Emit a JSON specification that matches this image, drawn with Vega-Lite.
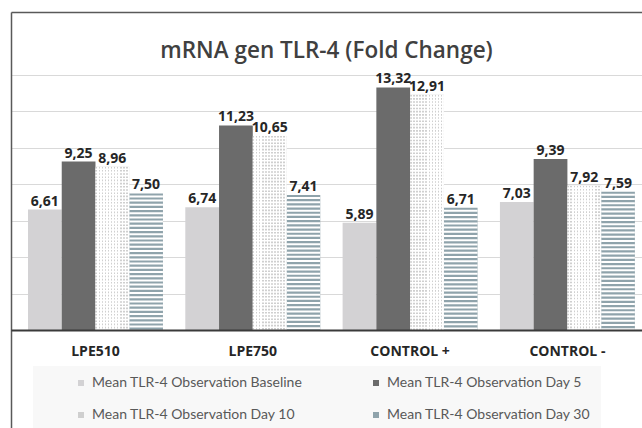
{
  "$schema": "https://vega.github.io/schema/vega-lite/v6.json",
  "autosize": {"type": "none"},
  "padding": {"left": 11, "top": 12, "right": 0, "bottom": 0},
  "width": 631,
  "height": 416,
  "background": "white",
  "title": {
    "text": "mRNA gen TLR-4 (Fold Change)",
    "font": "Open Sans",
    "fontSize": 22.5,
    "fontWeight": 600,
    "color": "#404040",
    "anchor": "middle",
    "offset": -50
  },
  "config": {
    "view": {"stroke": null},
    "locale": {"number": {"decimal": ",", "thousands": ".", "grouping": [3], "currency": ["", ""]}}
  },
  "data": {
    "values": [
      {"group": "LPE510", "series": "Mean TLR-4 Observation Baseline", "value": 6.61},
      {"group": "LPE510", "series": "Mean TLR-4 Observation Day 5", "value": 9.25},
      {"group": "LPE510", "series": "Mean TLR-4 Observation Day 10", "value": 8.96},
      {"group": "LPE510", "series": "Mean TLR-4 Observation Day 30", "value": 7.50},
      {"group": "LPE750", "series": "Mean TLR-4 Observation Baseline", "value": 6.74},
      {"group": "LPE750", "series": "Mean TLR-4 Observation Day 5", "value": 11.23},
      {"group": "LPE750", "series": "Mean TLR-4 Observation Day 10", "value": 10.65},
      {"group": "LPE750", "series": "Mean TLR-4 Observation Day 30", "value": 7.41},
      {"group": "CONTROL +", "series": "Mean TLR-4 Observation Baseline", "value": 5.89},
      {"group": "CONTROL +", "series": "Mean TLR-4 Observation Day 5", "value": 13.32},
      {"group": "CONTROL +", "series": "Mean TLR-4 Observation Day 10", "value": 12.91},
      {"group": "CONTROL +", "series": "Mean TLR-4 Observation Day 30", "value": 6.71},
      {"group": "CONTROL -", "series": "Mean TLR-4 Observation Baseline", "value": 7.03},
      {"group": "CONTROL -", "series": "Mean TLR-4 Observation Day 5", "value": 9.39},
      {"group": "CONTROL -", "series": "Mean TLR-4 Observation Day 10", "value": 7.92},
      {"group": "CONTROL -", "series": "Mean TLR-4 Observation Day 30", "value": 7.59}
    ]
  },
  "resolve": {"axis": {"x": "independent"}},
  "layer": [
    {
      "mark": {"type": "bar"},
      "encoding": {
        "x": {
          "field": "group", "type": "nominal", "sort": null,
          "scale": {"paddingInner": 0.142, "paddingOuter": 0.0766, "align": 0.705},
          "axis": {
            "orient": "bottom", "offset": -98, "title": null, "ticks": false, "labelAngle": 0,
            "domainColor": "#3a3a3a", "domainWidth": 2, "labelPadding": 14, "zindex": 1,
            "labelFont": "Open Sans", "labelFontSize": 14, "labelFontWeight": "bold", "labelColor": "#262626"
          }
        },
        "xOffset": {
          "field": "series", "type": "nominal",
          "scale": {"domain": ["Mean TLR-4 Observation Baseline", "Mean TLR-4 Observation Day 5", "Mean TLR-4 Observation Day 10", "Mean TLR-4 Observation Day 30"]}
        },
        "y": {
          "field": "value", "type": "quantitative",
          "scale": {"domain": [-5.38, 17.459], "nice": false, "zero": false},
          "axis": {
            "title": null, "labels": false, "ticks": false, "domain": true,
            "domainColor": "#595959", "domainWidth": 1.5,
            "grid": true, "gridColor": "#d9d9d9", "gridWidth": 1,
            "values": [2, 4, 6, 8, 10, 12, 14]
          }
        },
        "color": {
          "field": "series", "type": "nominal",
          "scale": {
            "domain": ["Mean TLR-4 Observation Baseline", "Mean TLR-4 Observation Day 5", "Mean TLR-4 Observation Day 10", "Mean TLR-4 Observation Day 30"],
            "range": ["#d3d2d4", "#6b6b6b", "#cfcfcf", "#8fa3ab"]
          },
          "legend": {
            "orient": "none", "legendX": 22, "legendY": 354, "columns": 2, "direction": "horizontal", "title": null,
            "symbolType": "square", "symbolSize": 36, "symbolOffset": 31, "labelOffset": 4,
            "symbolStrokeWidth": 0, "symbolDash": [], "labelLimit": 400,
            "labelFont": "Lato", "labelFontSize": 14, "labelColor": "#595959",
            "columnPadding": 35, "rowPadding": 18, "padding": 10, "fillColor": "#f8f8f8"
          }
        }
      }
    },
    {
      "transform": [{"filter": "datum.series == 'Mean TLR-4 Observation Day 30'"}],
      "mark": {"type": "rule", "color": "white", "strokeWidth": 33.7, "strokeDash": [2, 2.2], "strokeDashOffset": 2.2},
      "encoding": {
        "x": {"field": "group", "type": "nominal", "sort": null, "axis": null},
        "xOffset": {"field": "series", "type": "nominal"},
        "y": {"field": "value", "type": "quantitative"},
        "y2": {"datum": 0}
      }
    },
    {
      "transform": [{"filter": "datum.series == 'Mean TLR-4 Observation Day 10'"}],
      "mark": {"type": "rule", "color": "white", "strokeWidth": 33.7, "strokeDash": [1.6, 1.6], "strokeDashOffset": 1.6},
      "encoding": {
        "x": {"field": "group", "type": "nominal", "sort": null, "axis": null},
        "xOffset": {"field": "series", "type": "nominal"},
        "y": {"field": "value", "type": "quantitative"},
        "y2": {"datum": 0}
      }
    },
    {
      "transform": [{"filter": "datum.series == 'Mean TLR-4 Observation Day 10'"}],
      "mark": {
        "type": "bar",
        "fill": {
          "gradient": "linear", "x1": 0, "y1": 0, "x2": 1, "y2": 0,
          "stops": [
            {"offset": 0, "color": "rgba(255,255,255,0)"},
            {"offset": 0.0455, "color": "rgba(255,255,255,0)"},
            {"offset": 0.0455, "color": "#ffffff"},
            {"offset": 0.0909, "color": "#ffffff"},
            {"offset": 0.0909, "color": "rgba(255,255,255,0)"},
            {"offset": 0.1364, "color": "rgba(255,255,255,0)"},
            {"offset": 0.1364, "color": "#ffffff"},
            {"offset": 0.1818, "color": "#ffffff"},
            {"offset": 0.1818, "color": "rgba(255,255,255,0)"},
            {"offset": 0.2273, "color": "rgba(255,255,255,0)"},
            {"offset": 0.2273, "color": "#ffffff"},
            {"offset": 0.2727, "color": "#ffffff"},
            {"offset": 0.2727, "color": "rgba(255,255,255,0)"},
            {"offset": 0.3182, "color": "rgba(255,255,255,0)"},
            {"offset": 0.3182, "color": "#ffffff"},
            {"offset": 0.3636, "color": "#ffffff"},
            {"offset": 0.3636, "color": "rgba(255,255,255,0)"},
            {"offset": 0.4091, "color": "rgba(255,255,255,0)"},
            {"offset": 0.4091, "color": "#ffffff"},
            {"offset": 0.4545, "color": "#ffffff"},
            {"offset": 0.4545, "color": "rgba(255,255,255,0)"},
            {"offset": 0.5, "color": "rgba(255,255,255,0)"},
            {"offset": 0.5, "color": "#ffffff"},
            {"offset": 0.5455, "color": "#ffffff"},
            {"offset": 0.5455, "color": "rgba(255,255,255,0)"},
            {"offset": 0.5909, "color": "rgba(255,255,255,0)"},
            {"offset": 0.5909, "color": "#ffffff"},
            {"offset": 0.6364, "color": "#ffffff"},
            {"offset": 0.6364, "color": "rgba(255,255,255,0)"},
            {"offset": 0.6818, "color": "rgba(255,255,255,0)"},
            {"offset": 0.6818, "color": "#ffffff"},
            {"offset": 0.7273, "color": "#ffffff"},
            {"offset": 0.7273, "color": "rgba(255,255,255,0)"},
            {"offset": 0.7727, "color": "rgba(255,255,255,0)"},
            {"offset": 0.7727, "color": "#ffffff"},
            {"offset": 0.8182, "color": "#ffffff"},
            {"offset": 0.8182, "color": "rgba(255,255,255,0)"},
            {"offset": 0.8636, "color": "rgba(255,255,255,0)"},
            {"offset": 0.8636, "color": "#ffffff"},
            {"offset": 0.9091, "color": "#ffffff"},
            {"offset": 0.9091, "color": "rgba(255,255,255,0)"},
            {"offset": 0.9545, "color": "rgba(255,255,255,0)"},
            {"offset": 0.9545, "color": "#ffffff"},
            {"offset": 1, "color": "#ffffff"}
          ]
        }
      },
      "encoding": {
        "x": {"field": "group", "type": "nominal", "sort": null, "axis": null},
        "xOffset": {"field": "series", "type": "nominal"},
        "y": {"field": "value", "type": "quantitative"},
        "y2": {"datum": 0}
      }
    },
    {
      "mark": {"type": "text", "baseline": "alphabetic", "dy": -4, "font": "Open Sans", "fontSize": 14, "fontWeight": "bold", "color": "#262626"},
      "encoding": {
        "x": {
          "field": "group", "type": "nominal", "sort": null,
          "axis": {"orient": "top", "labels": false, "ticks": false, "title": null, "grid": false, "domain": true, "domainColor": "#595959", "domainWidth": 1.5}
        },
        "xOffset": {"field": "series", "type": "nominal"},
        "y": {"field": "value", "type": "quantitative"},
        "text": {"field": "value", "type": "quantitative", "format": ".2f"}
      }
    }
  ]
}
